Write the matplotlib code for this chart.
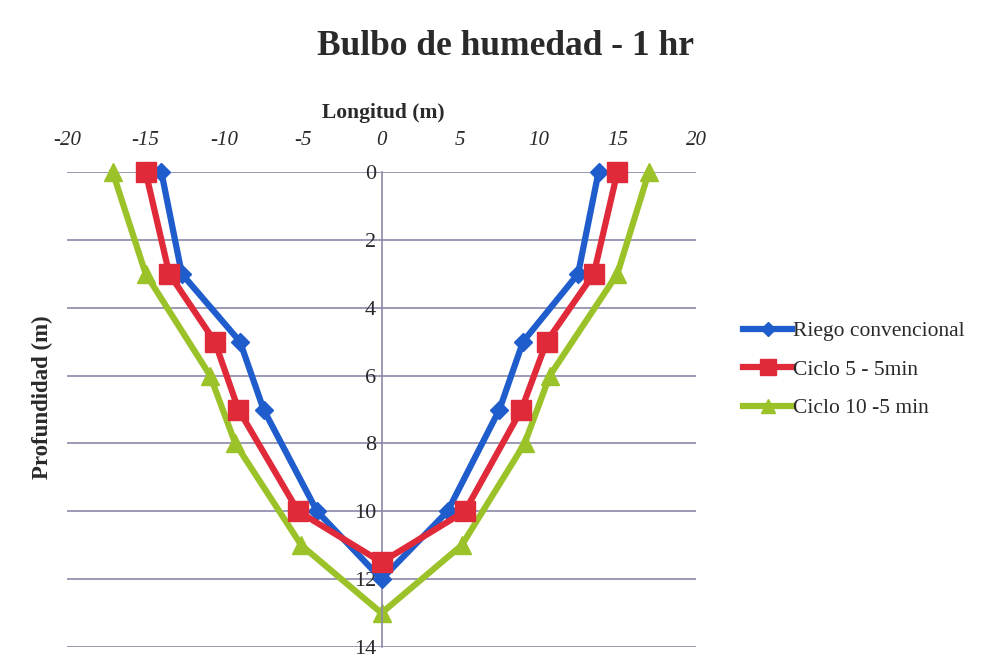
import matplotlib
matplotlib.use('Agg')
from matplotlib import pyplot as plt

# datos (longitud x, profundidad y)
prof_riego = [0, 3, 5, 7, 10, 12, 10, 7, 5, 3, 0]
long_riego = [-14.0, -12.7, -9.0, -7.5, -4.1, 0, 4.2, 7.5, 9.0, 12.5, 13.8]

prof_c5 = [0, 3, 5, 7, 10, 11.5, 10, 7, 5, 3, 0]
long_c5 = [-15.0, -13.5, -10.6, -9.1, -5.3, 0, 5.3, 8.9, 10.5, 13.5, 15.0]

prof_c10 = [0, 3, 6, 8, 11, 13, 11, 8, 6, 3, 0]
long_c10 = [-17.1, -15.0, -10.9, -9.3, -5.1, 0, 5.1, 9.1, 10.7, 15.0, 17.0]

xticks = [-20, -15, -10, -5, 0, 5, 10, 15, 20]
yticks = [0, 2, 4, 6, 8, 10, 12, 14]

plt.rcParams['font.family'] = 'Liberation Serif'
grid_col = '#8a88a8'
txt_col = '#2a2a2a'

fig = plt.figure(figsize=(9.87, 6.68), dpi=100)
ax = fig.add_axes([0.0679, 0.0314, 0.6373, 0.7111])

# eje vertical en x = 0 (antes de configurar ticks)
for s in ['top', 'right', 'bottom']:
    ax.spines[s].set_visible(False)
ax.spines['left'].set_position(('data', 0))
ax.spines['left'].set_color(grid_col)
ax.spines['left'].set_linewidth(1.2)

ax.plot(long_riego, prof_riego, color='#1f5ccc', lw=4.5, marker='D', ms=9,
        label='Riego convencional', clip_on=False, zorder=3)
ax.plot(long_c5, prof_c5, color='#e02a3a', lw=4.5, marker='s', ms=14,
        label='Ciclo 5 - 5min', clip_on=False, zorder=4)
ax.plot(long_c10, prof_c10, color='#9cc22a', lw=4.5, marker='^', ms=13,
        label='Ciclo 10 -5 min', clip_on=False, zorder=2)

ax.set_xlim(-20, 20)
ax.set_ylim(14, 0)
ax.set_xticks(xticks)
ax.set_xticklabels([str(v) for v in xticks], fontsize=15, style='italic', color=txt_col)
ax.set_yticks(yticks)
ax.set_yticklabels([str(v) for v in yticks], fontsize=16, color=txt_col)
ax.xaxis.tick_top()
ax.tick_params(axis='x', length=0, pad=16)
ax.tick_params(axis='y', length=0, pad=4)

ax.grid(axis='y', color=grid_col, lw=1.2)
ax.set_axisbelow(True)

fig.text(0.512, 0.930, 'Bulbo de humedad - 1 hr', fontsize=25.5, weight='bold',
         ha='center', va='center', color=txt_col)
fig.text(0.388, 0.831, 'Longitud (m)', fontsize=15.5, weight='bold',
         ha='center', va='center', color=txt_col)
fig.text(0.043, 0.405, 'Profundidad (m)', fontsize=16.5, weight='bold',
         ha='center', va='center', rotation=90, color=txt_col)

leg = fig.legend(loc='upper left', bbox_to_anchor=(0.733, 0.548), frameon=False,
                 fontsize=15.5, handlelength=2.3, handletextpad=0.05, labelspacing=0.85,
                 markerscale=0.8)
for t in leg.get_texts():
    t.set_color(txt_col)

fig.savefig('out.png', dpi=100)
